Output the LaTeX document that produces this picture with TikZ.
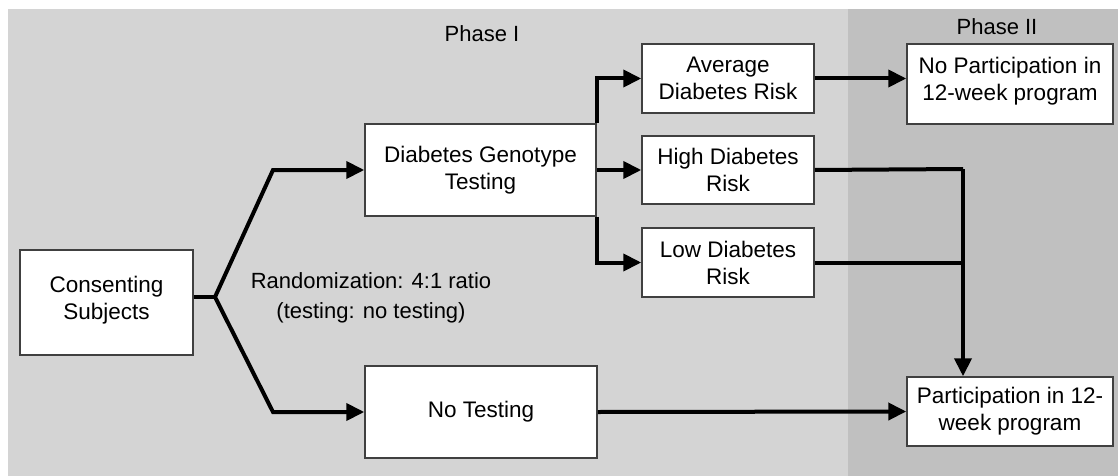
\documentclass[tikz,border=0pt]{standalone}
\usepackage{fontspec}
\setmainfont{Liberation Sans}
\usetikzlibrary{arrows.meta}
\definecolor{bgone}{RGB}{212,212,212}
\definecolor{bgtwo}{RGB}{192,192,192}
\definecolor{boxline}{RGB}{64,64,64}
\begin{document}
\begin{tikzpicture}[x=0.5pt,y=-0.5pt,
  box/.style={draw=boxline,line width=0.75pt,fill=white,align=center,inner sep=0pt,
    font=\fontsize{11.25}{13.5}\selectfont},
  lbl/.style={align=center,inner sep=0pt,font=\fontsize{11}{15}\selectfont},
  conn/.style={line width=2pt},
  arr/.style={line width=2pt,-{Triangle[length=9pt,width=8.5pt]}}]
\useasboundingbox (0,0) rectangle (1118,476);
\fill[white] (0,0) rectangle (1118,476);
\fill[bgone] (8,9) rectangle (848,476);
\fill[bgtwo] (848,9) rectangle (1118,476);
\node[lbl] (ph1) at (482,34) {Phase I};
\node[lbl] (ph2) at (997,27) {Phase II};
\node[box,minimum width=86.5pt,minimum height=52.5pt] (cons) at (106.5,302.5) {Consenting\\Subjects\\[-8.5pt]};
\node[box,minimum width=115.5pt,minimum height=46pt] (gen) at (480.5,170) {Diabetes Genotype\\Testing};
\node[box,minimum width=116pt,minimum height=46pt] (notest) at (481,412) {No Testing};
\node[box,minimum width=86pt,minimum height=34.5pt] (avg) at (728,78.5) {Average\\Diabetes Risk};
\node[box,minimum width=86pt,minimum height=34pt] (high) at (728,170) {High Diabetes\\Risk};
\node[box,minimum width=86pt,minimum height=34.5pt] (low) at (728,262.5) {Low Diabetes\\Risk};
\node[box,minimum width=103pt,minimum height=40pt] (nopart) at (1010,84) {No Participation in\\12-week program\\[-8pt]};
\node[box,minimum width=103pt,minimum height=34.5pt] (part) at (1010,411.5) {Participation in 12-\\week program};
\node[lbl] (rand) at (371,298) {Randomization: 4:1 ratio\\(testing: no testing)};
\coordinate (fork) at (215,297);
\coordinate (up) at (273,170);
\coordinate (dn) at (273,412);
\coordinate (j) at (963,169);
\draw[conn] (fork -| cons.east) -- (fork);
\draw[arr] (fork) -- (up) -- (gen.west);
\draw[arr] (fork) -- (dn) -- (notest.west);
\draw[arr] (gen.north east) |- (avg.west);
\draw[arr] (gen.east) -- (high.west);
\draw[arr] (gen.south east) |- (low.west);
\draw[arr] (avg.east) -- (avg.east -| nopart.west);
\draw[conn] (high.east) -- (j);
\draw[conn] (low.east) -- (low.east -| j);
\draw[arr] (j) -- (j |- part.north);
\draw[arr] (notest.east) -- (part.west);
\end{tikzpicture}
\end{document}
